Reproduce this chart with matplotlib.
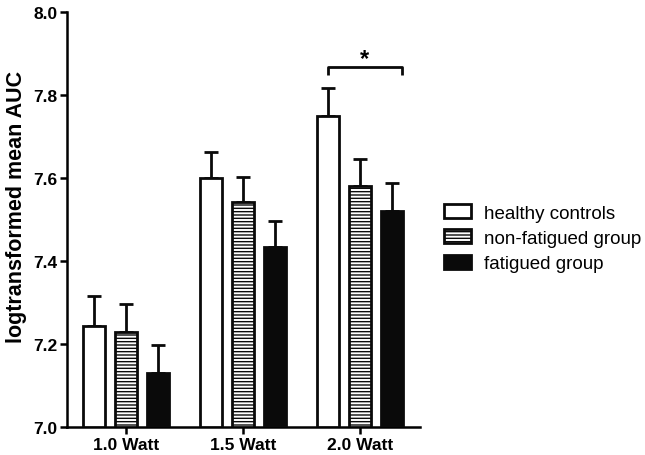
import matplotlib
matplotlib.use("Agg")
import matplotlib.pyplot as plt
import numpy as np

plt.rcParams['font.family'] = ['Liberation Sans', 'DejaVu Sans']
plt.rcParams['hatch.linewidth'] = 1.0

groups = ['1.0 Watt', '1.5 Watt', '2.0 Watt']
series = ['healthy controls', 'non-fatigued group', 'fatigued group']
means = {
    'healthy controls': [7.243, 7.600, 7.749],
    'non-fatigued group': [7.229, 7.542, 7.581],
    'fatigued group': [7.130, 7.434, 7.520],
}
sem = {
    'healthy controls': [0.073, 0.063, 0.068],
    'non-fatigued group': [0.067, 0.060, 0.065],
    'fatigued group': [0.068, 0.062, 0.068],
}
faces = ['white', 'white', '#0a0a0a']
hatches = [None, '-----', None]

fig = plt.figure(figsize=(6.45, 4.56), dpi=100)
ax = fig.add_axes([0.104, 0.0614, 0.547, 0.910])

x = np.arange(len(groups))
step = 0.273
width = 0.19
for i, s in enumerate(series):
    pos = x + (i - 1) * step
    ax.bar(pos, np.array(means[s]) - 7.0, width, bottom=7.0, color=faces[i],
           edgecolor='#0a0a0a', linewidth=2.0, hatch=hatches[i], label=s, zorder=3)
    ax.errorbar(pos, means[s], yerr=[np.zeros(3), sem[s]], fmt='none', ecolor='#0a0a0a',
                elinewidth=2.0, capsize=5, capthick=2.0, zorder=2)

# significance bracket
bx0, bx1 = 2 - step, 2 + step + 0.08
ax.plot([bx0, bx0, bx1, bx1], [7.848, 7.867, 7.867, 7.848], color='#0a0a0a', lw=2.0,
        solid_capstyle='butt', clip_on=False)
ax.text((bx0 + bx1) / 2, 7.888, '*', ha='center', va='center', fontsize=17, fontweight='bold')

ax.set_xlim(-0.504, 2.51)
ax.set_ylim(7.0, 8.0)
ax.set_yticks([7.0, 7.2, 7.4, 7.6, 7.8, 8.0])
ax.set_yticklabels(['7.0', '7.2', '7.4', '7.6', '7.8', '8.0'])
ax.set_xticks(x)
ax.set_xticklabels(groups)
for lab in ax.get_xticklabels() + ax.get_yticklabels():
    lab.set_fontweight('bold')
    lab.set_fontsize(12.5)
ax.tick_params(width=1.8, length=5, direction='out', pad=2)
ax.set_ylabel('logtransformed mean AUC', fontsize=15.5, fontweight='bold')
ax.yaxis.set_label_coords(-0.114, 0.533)
for sp in ['top', 'right']:
    ax.spines[sp].set_visible(False)
for sp in ['left', 'bottom']:
    ax.spines[sp].set_linewidth(1.8)

ax.legend(loc='center left', bbox_to_anchor=(1.02, 0.455), frameon=False, fontsize=13.5,
          handlelength=1.45, handleheight=0.75, handletextpad=0.7, labelspacing=0.42)

fig.savefig('out.png', dpi=100)
